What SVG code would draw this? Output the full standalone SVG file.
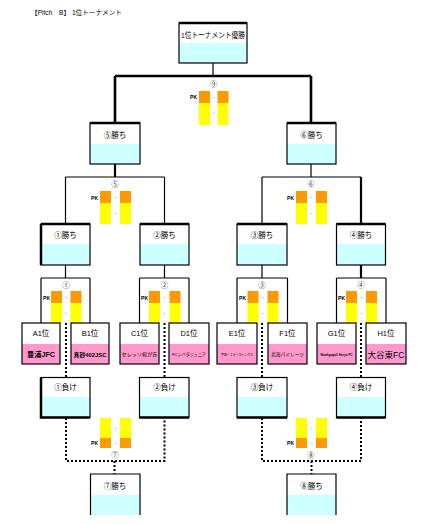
<svg xmlns="http://www.w3.org/2000/svg" width="421" height="524" viewBox="0 0 421 524">
<style>
text{font-family:"Liberation Sans","Noto Sans CJK JP",sans-serif;fill:#000;text-anchor:middle}
.lbl{font-size:7.5px}
.ttl{font-size:6.5px;text-anchor:start}
.pk{font-size:5px;font-weight:bold;text-anchor:end}
.num{font-size:7.5px;font-family:"Noto Sans CJK JP",sans-serif;fill:#444}
.dash{font-size:6px;fill:#555}
.wt{fill:#fff}
.cy{fill:#CCFFFF}
.pi{fill:#FF99CC}
.or{fill:#FF9900}
.ye{fill:#FFFF00}
.ol{fill:none;stroke:#000;stroke-width:1.2}
.tk{stroke:#000;stroke-width:2.5;fill:none}
.c1{stroke:#000;stroke-width:1.2;fill:none}
.c2{stroke:#000;stroke-width:2.2;fill:none}
.c3{stroke:#000;stroke-width:2.6;fill:none}
.dt{stroke:#000;stroke-width:2;stroke-dasharray:2 2;fill:none}
</style>
<text class="ttl" x="31" y="15" textLength="91" lengthAdjust="spacingAndGlyphs">【Pitch　B】 1位トーナメント</text>

<g id="connectors">
<path class="c1" d="M213,63V76"/>
<path class="c3" d="M115,76H311M115,76V123M311,76V123"/>
<path class="c2" d="M115,164V177"/>
<path class="c1" d="M65.5,177H164.5M65.5,177V224M164.5,177V224"/>
<path class="c1" d="M311,164V177M262,177H361M262,177V224"/>
<path class="c2" d="M361,177V224"/>
<path class="c1" d="M65.5,265V278M41,278H90M41,278V323M90,278V323"/>
<path class="c1" d="M164.5,265V278M139.5,278H189M139.5,278V323M189,278V323"/>
<path class="c1" d="M262,265V278M237,278H287.5M237,278V323M287.5,278V323"/>
<path class="c2" d="M361,265V278"/>
<path class="c1" d="M336.5,278H386M336.5,278V323M386,278V323"/>
<path class="dt" d="M66,323V377M164.5,323V377M262,323V377M361,323V377"/>
<path class="dt" d="M66,418V461H164.5V418M114.5,461V474"/>
<path class="dt" d="M262,418V461H361V418M311.5,461V474"/>
</g>

<g id="final">
<rect class="wt" x="179" y="23" width="68" height="20"/><rect class="cy" x="179" y="43" width="68" height="20"/>
<rect class="ol" x="179" y="23" width="68" height="40"/><path class="tk" d="M179,23H247"/>
<text class="lbl" x="213" y="38" font-size="7" textLength="64" lengthAdjust="spacingAndGlyphs">1位トーナメント優勝</text>
</g>

<g id="m9">
<text class="num" x="213.5" y="87">⑨</text>
<text class="pk" x="197" y="99">PK</text>
<rect class="or" x="199" y="91" width="11" height="12"/><rect class="ye" x="199" y="103" width="11" height="22"/>
<rect class="or" x="217.5" y="91" width="11" height="12"/><rect class="ye" x="217.5" y="103" width="11" height="22"/>
<text class="dash" x="213.5" y="99">-</text><text class="dash" x="213.5" y="115">-</text>
</g>

<g id="w5">
<rect class="wt" x="90" y="123" width="50" height="21"/><rect class="cy" x="90" y="144" width="50" height="20"/>
<rect class="ol" x="90" y="123" width="50" height="41"/><path class="tk" d="M90,123H140"/>
<text class="lbl" x="115" y="138">⑤勝ち</text>
</g>
<g id="w6">
<rect class="wt" x="287" y="123" width="49" height="21"/><rect class="cy" x="287" y="144" width="49" height="20"/>
<rect class="ol" x="287" y="123" width="49" height="41"/><path class="tk" d="M287,123H336"/>
<text class="lbl" x="311.5" y="138">⑥勝ち</text>
</g>

<g id="m5">
<text class="num" x="115" y="187">⑤</text>
<text class="pk" x="98" y="200">PK</text>
<rect class="or" x="100" y="191" width="11" height="12"/><rect class="ye" x="100" y="203" width="11" height="21"/>
<rect class="or" x="120" y="191" width="11" height="12"/><rect class="ye" x="120" y="203" width="11" height="21"/>
<text class="dash" x="115.5" y="199">-</text><text class="dash" x="115.5" y="215">-</text>
</g>
<g id="m6">
<text class="num" x="311" y="187">⑥</text>
<text class="pk" x="294" y="200">PK</text>
<rect class="or" x="296" y="191" width="11" height="12"/><rect class="ye" x="296" y="203" width="11" height="21"/>
<rect class="or" x="316" y="191" width="11" height="12"/><rect class="ye" x="316" y="203" width="11" height="21"/>
<text class="dash" x="311.5" y="199">-</text><text class="dash" x="311.5" y="215">-</text>
</g>

<g id="w1">
<rect class="wt" x="41" y="224" width="49" height="20"/><rect class="cy" x="41" y="244" width="49" height="21"/>
<rect class="ol" x="41" y="224" width="49" height="41"/><path class="tk" d="M41,224H90M41,224V265"/>
<text class="lbl" x="65.5" y="238">①勝ち</text>
</g>
<g id="w2">
<rect class="wt" x="140" y="224" width="49" height="20"/><rect class="cy" x="140" y="244" width="49" height="21"/>
<rect class="ol" x="140" y="224" width="49" height="41"/><path class="tk" d="M140,224H189"/>
<text class="lbl" x="164.5" y="238">②勝ち</text>
</g>
<g id="w3">
<rect class="wt" x="237" y="224" width="50" height="20"/><rect class="cy" x="237" y="244" width="50" height="21"/>
<rect class="ol" x="237" y="224" width="50" height="41"/><path class="tk" d="M237,224H287"/>
<text class="lbl" x="262" y="238">③勝ち</text>
</g>
<g id="w4">
<rect class="wt" x="336.5" y="224" width="49" height="20"/><rect class="cy" x="336.5" y="244" width="49" height="21"/>
<rect class="ol" x="336.5" y="224" width="49" height="41"/><path class="tk" d="M336.5,224H385.5"/>
<text class="lbl" x="361" y="238">④勝ち</text>
</g>

<g id="m1">
<text class="num" x="66" y="288">①</text>
<text class="pk" x="50" y="300">PK</text>
<rect class="or" x="51" y="291" width="11" height="12"/><rect class="ye" x="51" y="303" width="11" height="20"/>
<rect class="or" x="70.5" y="291" width="11" height="12"/><rect class="ye" x="70.5" y="303" width="11" height="20"/>
<text class="dash" x="66" y="299">-</text><text class="dash" x="66" y="315">-</text>
</g>
<g id="m2">
<text class="num" x="164.5" y="288">②</text>
<text class="pk" x="148" y="300">PK</text>
<rect class="or" x="149" y="291" width="11" height="12"/><rect class="ye" x="149" y="303" width="11" height="20"/>
<rect class="or" x="169.5" y="291" width="11" height="12"/><rect class="ye" x="169.5" y="303" width="11" height="20"/>
<text class="dash" x="164.5" y="299">-</text><text class="dash" x="164.5" y="315">-</text>
</g>
<g id="m3">
<text class="num" x="262" y="288">③</text>
<text class="pk" x="246" y="300">PK</text>
<rect class="or" x="247.5" y="291" width="11" height="12"/><rect class="ye" x="247.5" y="303" width="11" height="20"/>
<rect class="or" x="267.5" y="291" width="11" height="12"/><rect class="ye" x="267.5" y="303" width="11" height="20"/>
<text class="dash" x="262.5" y="299">-</text><text class="dash" x="262.5" y="315">-</text>
</g>
<g id="m4">
<text class="num" x="361" y="288">④</text>
<text class="pk" x="345" y="300">PK</text>
<rect class="or" x="346" y="291" width="11" height="12"/><rect class="ye" x="346" y="303" width="11" height="20"/>
<rect class="or" x="366" y="291" width="11" height="12"/><rect class="ye" x="366" y="303" width="11" height="20"/>
<text class="dash" x="361.5" y="299">-</text><text class="dash" x="361.5" y="315">-</text>
</g>

<g id="A1">
<rect class="wt" x="22" y="323" width="38" height="21"/><rect class="pi" x="22" y="344" width="38" height="20"/>
<rect class="ol" x="22" y="323" width="38" height="41"/>
<text class="lbl" x="41" y="336">A1位</text>
<text x="41" y="357" font-size="7" font-weight="bold" textLength="28" lengthAdjust="spacingAndGlyphs">豊浦JFC</text>
</g>
<g id="B1">
<rect class="wt" x="71" y="323" width="38" height="21"/><rect class="pi" x="71" y="344" width="38" height="20"/>
<rect class="ol" x="71" y="323" width="38" height="41"/>
<text class="lbl" x="90" y="336">B1位</text>
<text x="90" y="357" font-size="6" font-weight="bold" textLength="33" lengthAdjust="spacingAndGlyphs">真砂402JSC</text>
</g>
<g id="C1">
<rect class="wt" x="120" y="323" width="39" height="21"/><rect class="pi" x="120" y="344" width="39" height="20"/>
<rect class="ol" x="120" y="323" width="39" height="41"/>
<text class="lbl" x="139.5" y="336">C1位</text>
<text x="139.5" y="356" font-size="5" textLength="36" lengthAdjust="spacingAndGlyphs">セレッソ桜が丘</text>
</g>
<g id="D1">
<rect class="wt" x="169" y="323" width="40" height="21"/><rect class="pi" x="169" y="344" width="40" height="20"/>
<rect class="ol" x="169" y="323" width="40" height="41"/>
<text class="lbl" x="189" y="336">D1位</text>
<text x="189" y="356" font-size="4.3" textLength="34" lengthAdjust="spacingAndGlyphs">FCシバタジュニア</text>
</g>
<g id="E1">
<rect class="wt" x="217" y="323" width="40" height="21"/><rect class="pi" x="217" y="344" width="40" height="20"/>
<rect class="ol" x="217" y="323" width="40" height="41"/>
<text class="lbl" x="237" y="336">E1位</text>
<text x="237" y="356" font-size="3.4" textLength="32" lengthAdjust="spacingAndGlyphs">宇部・フォーウィングス</text>
</g>
<g id="F1">
<rect class="wt" x="268" y="323" width="39" height="21"/><rect class="pi" x="268" y="344" width="39" height="20"/>
<rect class="ol" x="268" y="323" width="39" height="41"/>
<text class="lbl" x="287.5" y="336">F1位</text>
<text x="287.5" y="356" font-size="4.8" textLength="33" lengthAdjust="spacingAndGlyphs">北海パイレーツ</text>
</g>
<g id="G1">
<rect class="wt" x="317" y="323" width="39" height="21"/><rect class="pi" x="317" y="344" width="39" height="20"/>
<rect class="ol" x="317" y="323" width="39" height="41"/>
<text class="lbl" x="336.5" y="336">G1位</text>
<text x="336.5" y="356" font-size="3.4" font-weight="bold" textLength="32" lengthAdjust="spacingAndGlyphs">Noahgagoli Senjo FC</text>
</g>
<g id="H1">
<rect class="wt" x="366" y="323" width="40" height="21"/><rect class="pi" x="366" y="344" width="40" height="20"/>
<rect class="ol" x="366" y="323" width="40" height="41"/>
<text class="lbl" x="386" y="336">H1位</text>
<text x="386" y="358" font-size="8.5" textLength="37" lengthAdjust="spacingAndGlyphs">大谷東FC</text>
</g>

<g id="l1">
<rect class="wt" x="41" y="377.5" width="49" height="19.5"/><rect class="cy" x="41" y="397" width="49" height="20.5"/>
<rect class="ol" x="41" y="377.5" width="49" height="40"/><path class="tk" d="M41,377.5V417.5H90"/>
<text class="lbl" x="65.5" y="390">①負け</text>
</g>
<g id="l2">
<rect class="wt" x="139.5" y="377.5" width="49.5" height="19.5"/><rect class="cy" x="139.5" y="397" width="49.5" height="20.5"/>
<rect class="ol" x="139.5" y="377.5" width="49.5" height="40"/><path class="tk" d="M139.5,417.5H189"/>
<text class="lbl" x="164.5" y="390">②負け</text>
</g>
<g id="l3">
<rect class="wt" x="237" y="377.5" width="50" height="19.5"/><rect class="cy" x="237" y="397" width="50" height="20.5"/>
<rect class="ol" x="237" y="377.5" width="50" height="40"/><path class="tk" d="M237,417.5H287"/>
<text class="lbl" x="262" y="390">③負け</text>
</g>
<g id="l4">
<rect class="wt" x="336.5" y="377.5" width="49" height="19.5"/><rect class="cy" x="336.5" y="397" width="49" height="20.5"/>
<rect class="ol" x="336.5" y="377.5" width="49" height="40"/><path class="tk" d="M336.5,417.5H385.5"/>
<text class="lbl" x="361" y="390">④負け</text>
</g>

<g id="m7">
<rect class="ye" x="100" y="418" width="11" height="20"/><rect class="or" x="100" y="438" width="11" height="10"/>
<rect class="ye" x="120" y="418" width="11" height="20"/><rect class="or" x="120" y="438" width="11" height="10"/>
<text class="pk" x="98" y="445">PK</text>
<text class="dash" x="115.5" y="430">-</text><text class="dash" x="115.5" y="445">-</text>
<text class="num" x="115" y="458">⑦</text>
</g>
<g id="m8">
<rect class="ye" x="296" y="418" width="11" height="20"/><rect class="or" x="296" y="438" width="11" height="10"/>
<rect class="ye" x="316" y="418" width="11" height="20"/><rect class="or" x="316" y="438" width="11" height="10"/>
<text class="pk" x="294" y="445">PK</text>
<text class="dash" x="311.5" y="430">-</text><text class="dash" x="311.5" y="445">-</text>
<text class="num" x="311" y="458">⑧</text>
</g>

<g id="w7">
<rect class="wt" x="90.5" y="474" width="49.5" height="21"/><rect class="cy" x="90.5" y="495" width="49.5" height="20"/>
<path class="c1" d="M90.5,515V474H140V515"/>
<text class="lbl" x="115" y="489">⑦勝ち</text>
</g>
<g id="w8">
<rect class="wt" x="287" y="474" width="49" height="21"/><rect class="cy" x="287" y="495" width="49" height="20"/>
<path class="c1" d="M287,515V474H336V515"/>
<text class="lbl" x="311.5" y="489">⑧勝ち</text>
</g>
</svg>
